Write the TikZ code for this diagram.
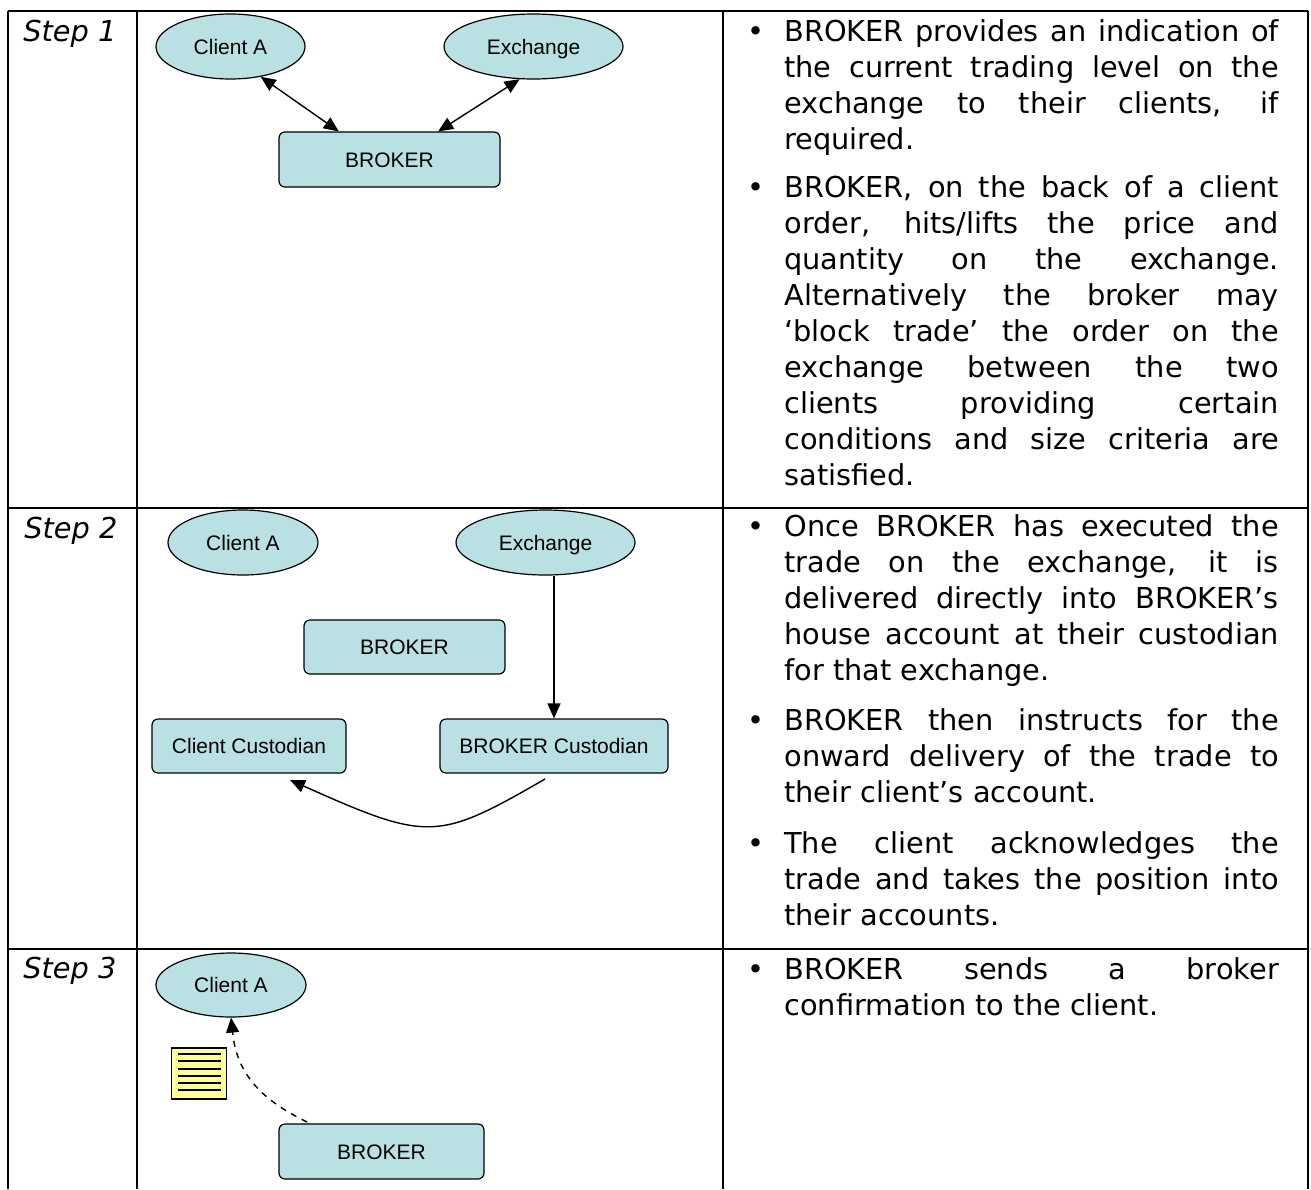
\documentclass[tikz,border=0pt]{standalone}
\usepackage{fontspec}
\setmainfont{DejaVu Sans}
\newfontfamily\diagfont{Liberation Sans}
\usetikzlibrary{shapes.geometric,arrows.meta}
\definecolor{boxblue}{HTML}{B9E0E3}
\definecolor{noteyellow}{HTML}{FFFF99}
\tolerance=10000
\hbadness=10000
\hyphenpenalty=10000
\newcommand{\bulletmark}{\noindent\llap{\makebox[18.5pt][l]{\textbullet}}}

\begin{document}
\begin{tikzpicture}[x=0.5pt,y=-0.5pt,
            grid/.style={line width=1pt},
            party/.style={ellipse,draw,line width=0.6pt,fill=boxblue,inner sep=0pt,text height=7.6pt,text depth=0pt,
                minimum width=74.5pt,minimum height=32.5pt,font=\diagfont\fontsize{10.5}{12}\selectfont},
            desk/.style={rectangle,rounded corners=3pt,draw,line width=0.6pt,fill=boxblue,inner sep=0pt,text height=7.6pt,text depth=0pt,
                minimum height=27.5pt,font=\diagfont\fontsize{10.5}{12}\selectfont},
            steplabel/.style={anchor=base west,inner sep=0pt,font=\fontsize{14.4}{18}\selectfont\itshape},
            point/.style={anchor=base west,inner sep=0pt,text width=247.25pt,align=justify,font=\fontsize{14.4}{18}\selectfont},
            flow/.style={line width=0.7pt,-{Triangle[length=7.5pt,width=6.5pt]}},
            twoway/.style={line width=0.7pt,{Triangle[length=7.5pt,width=6.5pt]}-{Triangle[length=7.5pt,width=6.5pt]}}]
            \useasboundingbox (0,0) rectangle (1311,1189);

            \foreach \x in {8,137,723,1308} \draw[grid] (\x,11) -- (\x,1189);
            \foreach \y in {11,508,949} \draw[grid] (8,\y) -- (1308,\y);

            \node[steplabel] (step1) at (23,41) {Step 1};
            \node[steplabel] (step2) at (24,538) {Step 2};
            \node[steplabel] (step3) at (23,978) {Step 3};

            \node[party] (ca1) at (230.5,46.5) {Client A};
            \node[party,minimum width=89.5pt] (ex1) at (533.5,46.5) {Exchange};
            \node[desk,minimum width=110.5pt] (br1) at (389.5,159.5) {BROKER};
            \draw[twoway] (ca1.-45) -- (br1.151);
            \draw[twoway] (ex1.-113) -- (br1.30);

            \node[party,minimum width=75pt] (ca2) at (243,542.5) {Client A};
            \node[party,minimum width=89.5pt] (ex2) at (545.5,542.5) {Exchange};
            \node[desk,minimum width=100.5pt,minimum height=27pt] (br2) at (404.5,647) {BROKER};
            \node[desk,minimum width=97pt,minimum height=27pt] (cc2) at (249,746) {Client Custodian};
            \node[desk,minimum width=114pt,minimum height=27pt] (bc2) at (554,746) {BROKER Custodian};
            \draw[flow] (bc2.north |- ex2.south) -- (bc2.north);
            \coordinate (bc2out) at (545,779);
            \coordinate (cc2in) at (290,780);
            \draw[flow] (bc2out) .. controls (437,841.5) and (428,841.5) .. (cc2in);

            \node[party,minimum width=75pt,minimum height=32pt] (ca3) at (231,985) {Client A};
            \node[desk,minimum width=102.5pt] (br3) at (381.5,1151.5) {BROKER};
            \coordinate (br3out) at (307,1122);
            \draw[flow,dashed] (br3out) .. controls (262,1100) and (237,1075) .. (ca3.south);
            \draw[line width=0.7pt,fill=noteyellow] (171.7,1048) rectangle (226.7,1099);
            \foreach \k in {0,...,5} \draw[line width=1pt] (178,{1054.3+7.1*\k}) -- (221,{1054.3+7.1*\k});

            \node[point] (s1a) at (784,41) {\bulletmark BROKER provides an indication of\linebreak the current trading level on the\linebreak exchange to their clients, if\linebreak required.};
            \node[point] (s1b) at (784,197) {\bulletmark BROKER, on the back of a client\linebreak order, hits/lifts the price and\linebreak quantity on the exchange.\linebreak Alternatively the broker may\linebreak ‘block trade’ the order on the\linebreak exchange between the two\linebreak clients providing certain\linebreak conditions and size criteria are\linebreak satisfied.};
            \node[point] (s2a) at (784,536) {\bulletmark Once BROKER has executed the\linebreak trade on the exchange, it is\linebreak delivered directly into BROKER’s\linebreak house account at their custodian\linebreak for that exchange.};
            \node[point] (s2b) at (784,730) {\bulletmark BROKER then instructs for the\linebreak onward delivery of the trade to\linebreak their client’s account.};
            \node[point] (s2c) at (784,853) {\bulletmark The client acknowledges the\linebreak trade and takes the position into\linebreak their accounts.};
            \node[point] (s3a) at (784,979) {\bulletmark BROKER sends a broker\linebreak confirmation to the client.};
        \end{tikzpicture}
\end{document}
